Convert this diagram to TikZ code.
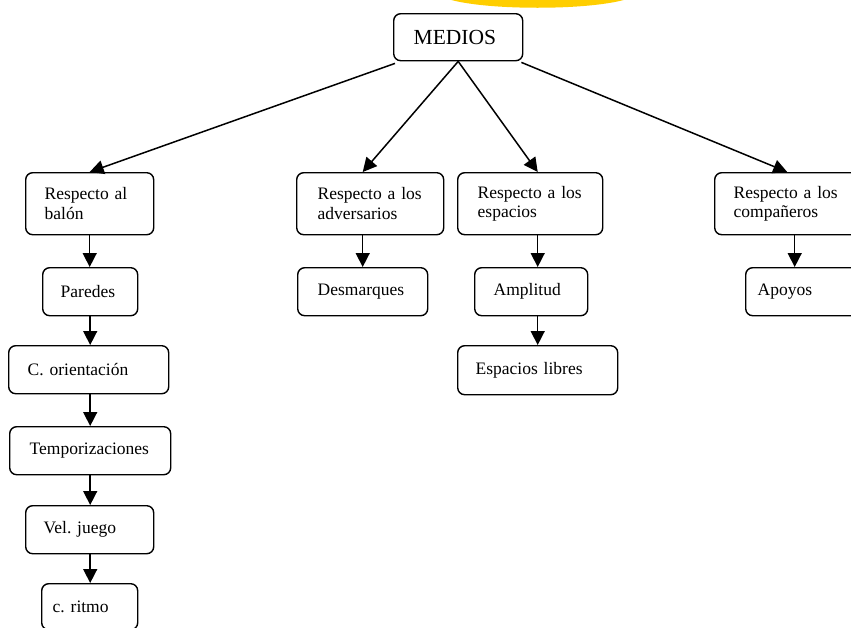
\documentclass[tikz,border=0pt]{standalone}
\usepackage{fontspec}
\setmainfont{Liberation Serif}
\usetikzlibrary{arrows.meta}
\definecolor{sunyellow}{RGB}{255,206,0}
\tikzset{
  box/.style={draw, line width=1.4pt, rounded corners=7pt, anchor=north west,
    align=left, inner ysep=0pt, font=\fontsize{17.5}{19.5}\selectfont\frenchspacing},
  arr/.style={line width=1.5pt, -{Triangle[length=14pt,width=14pt]}},
}
\begin{document}
\begin{tikzpicture}[x=1pt,y=-1pt]
\useasboundingbox (0,0) rectangle (851,627);
\fill[sunyellow] (445,-2) .. controls (480,11) and (595,11) .. (630,-2) -- cycle;

\node[box, font=\fontsize{21.5}{24}\selectfont, minimum width=129pt, minimum height=47pt, text width=89pt, inner xsep=20pt] (medios) at (393,13) {MEDIOS};

\node[box, minimum width=128pt, minimum height=62pt, text width=90pt, inner xsep=19pt] (balon) at (25,172) {Respecto al\\bal\'on};
\node[box, minimum width=95pt, minimum height=48pt, text width=59pt, inner xsep=18pt] (paredes) at (42,267) {Paredes};
\node[box, minimum width=160pt, minimum height=48pt, text width=122pt, inner xsep=19pt] (corient) at (8,345) {C. orientaci\'on};
\node[box, minimum width=161pt, minimum height=48pt, text width=121pt, inner xsep=20pt] (tempo) at (9,426) {Temporizaciones};
\node[box, minimum width=128pt, minimum height=48pt, text width=92pt, inner xsep=18pt] (vel) at (25,505) {Vel. juego};
\node[box, minimum width=96pt, minimum height=46pt, text width=74pt, inner xsep=11pt] (ritmo) at (41,583) {c. ritmo};

\node[box, minimum width=147pt, minimum height=62pt, text width=105pt, inner xsep=21pt] (advers) at (296,172) {Respecto a los\\adversarios};
\node[box, minimum width=130pt, minimum height=48pt, text width=90pt, inner xsep=20pt] (desm) at (297,267) {Desmarques};

\node[box, minimum width=145pt, minimum height=62pt, text width=105pt, inner xsep=20pt] (espac) at (457,172) {Respecto a los\\espacios};
\node[box, minimum width=113pt, minimum height=48pt, text width=75pt, inner xsep=19pt] (ampl) at (474,267) {Amplitud};
\node[box, minimum width=160pt, minimum height=49pt, text width=124pt, inner xsep=18pt] (libres) at (457,345) {Espacios libres};

\node[box, minimum width=145pt, minimum height=62pt, text width=107pt, inner xsep=19pt] (compa) at (714,172) {Respecto a los\\compa\~neros};
\node[box, minimum width=115pt, minimum height=48pt, text width=91pt, inner xsep=12pt] (apoyos) at (745,267) {Apoyos};

% diagonal arrows from MEDIOS
\draw[arr] ([xshift=2pt,yshift=-2pt]medios.south west) -- (balon.north);
\draw[arr] (medios.south) -- (advers.north -| desm.north);
\draw[arr] (medios.south) -- (espac.north -| libres.north);
\draw[arr] ([xshift=-2pt,yshift=-1pt]medios.south east) -- (compa.north);

% vertical arrows
\draw[arr] (balon.south) -- (balon.south |- paredes.north);
\draw[arr] (paredes.south) -- (paredes.south |- corient.north);
\draw[arr] (paredes.south |- tempo.north) ++(0,-33) -- (paredes.south |- tempo.north);
\draw[arr] (paredes.south |- vel.north) ++(0,-31) -- (paredes.south |- vel.north);
\draw[arr] (paredes.south |- ritmo.north) ++(0,-30) -- (paredes.south |- ritmo.north);
\draw[arr] (desm.north |- advers.south) -- (desm.north);
\draw[arr] (libres.north |- espac.south) -- (libres.north |- ampl.north);
\draw[arr] (libres.north |- ampl.south) -- (libres.north);
\draw[arr] ([xshift=7.5pt]compa.south) -- ([xshift=7.5pt]compa.south |- apoyos.north);
\end{tikzpicture}
\end{document}
